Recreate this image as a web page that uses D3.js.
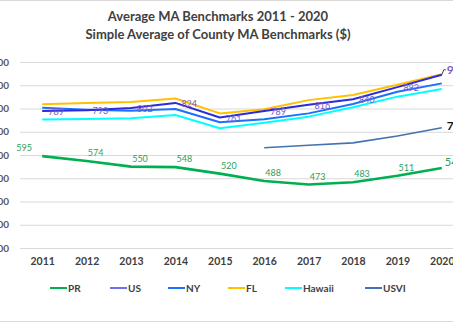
<!DOCTYPE html>
<html><head><meta charset="utf-8">
<script src="https://cdn.jsdelivr.net/npm/d3@7"></script>
<style>body{margin:0;background:#fff;overflow:hidden}svg{display:block}</style>
</head><body>
<svg id="c" width="453" height="323"></svg>
<script>
const years = [2011,2012,2013,2014,2015,2016,2017,2018,2019,2020];
const PR = [595,574,550,548,520,488,473,483,511,544];
const US = [789,793,802,824,761,789,816,840,892,945];
const NY = [803,795,790,798,741,754,779,819,872,908];
const FL = [818,824,828,843,779,797,836,858,902,947];
const Hawaii = [753,755,758,772,715,739,765,805,851,884];
const USVI = [null,null,null,null,null,631,642,652,682,717];
const yTicks = [200,300,400,500,600,700,800,900,1000];
const titleLines = ["Average MA Benchmarks 2011 - 2020","Simple Average of County MA Benchmarks ($)"];

const series = [
  {name:"PR", values:PR, color:"#00B050", width:2.6},
  {name:"US", values:US, color:"#2B2BD9", width:2, legend:"#6F6FF0"},
  {name:"NY", values:NY, color:"#1F6FFF", width:2},
  {name:"FL", values:FL, color:"#FFC000", width:2},
  {name:"Hawaii", values:Hawaii, color:"#00FFFF", width:2},
  {name:"USVI", values:USVI, color:"#4472B0", width:1.6}
];

const svg = d3.select("#c");
const font = "Lato, 'Open Sans', sans-serif";
const x = d3.scalePoint().domain(years).range([20,464]).padding(0.5);
const y = d3.scaleLinear().domain([200,1000]).range([248,62]);

// borders
svg.append("line").attr("x1",0).attr("x2",453).attr("y1",0.5).attr("y2",0.5).attr("stroke","#d9d9d9");
svg.append("line").attr("x1",0).attr("x2",453).attr("y1",321.5).attr("y2",321.5).attr("stroke","#d9d9d9");

// title
svg.append("text").attr("x",218).attr("y",21).attr("text-anchor","middle")
  .attr("font-family",font).attr("font-weight","bold").attr("font-size",13).attr("fill","#404040")
  .selectAll("tspan").data(titleLines).join("tspan")
  .attr("x",218).attr("dy",(d,i)=>i?18:0).text(d=>d);

// grid + y labels (partly cut by the left edge, as in the reference)
const yAxis = d3.axisLeft(y).tickValues(yTicks).tickSize(-444).tickFormat(d=>"$"+d3.format(",")(d));
const gy = svg.append("g").attr("transform","translate(20,0)").call(yAxis);
gy.select(".domain").remove();
gy.selectAll(".tick line").attr("stroke","#d9d9d9");
gy.selectAll(".tick text").attr("x",-11).attr("font-family",font).attr("font-weight","bold")
  .attr("font-size",10).attr("fill","#595959");

// x axis
const xAxis = d3.axisBottom(x).tickSize(0).tickPadding(0);
const gx = svg.append("g").attr("transform","translate(0,258)").call(xAxis);
gx.select(".domain").remove();
gx.selectAll(".tick text").attr("font-family",font).attr("font-weight","bold")
  .attr("font-size",10.5).attr("fill","#404040");

// lines
const line = d3.line().defined(d=>d.v!=null).x(d=>x(d.year)).y(d=>y(d.v));
const order = [4,2,3,1,5,0];
order.forEach(i=>{
  const s = series[i];
  svg.append("path").datum(years.map((yr,j)=>({year:yr,v:s.values[j]})))
    .attr("d",line).attr("fill","none").attr("stroke",s.color)
    .attr("stroke-width",s.width).attr("stroke-linejoin","round");
});

// PR labels
const last = years.length-1;
svg.append("g").selectAll("text").data(years.slice(0,last)).join("text")
  .attr("x",(d,i)=>x(d)+(i===0?-18:9))
  .attr("y",(d,i)=>y(PR[i])-5)
  .attr("text-anchor","middle").attr("font-family",font).attr("font-size",9)
  .attr("fill","#2EA05A").text((d,i)=>PR[i]);
// US labels
svg.append("g").selectAll("text").data(years.slice(0,last)).join("text")
  .attr("x",d=>x(d)+6).attr("y",(d,i)=>y(US[i])+4)
  .attr("font-family",font).attr("font-size",9)
  .attr("fill","#7A5CC4").text((d,i)=>US[i]);

// end labels
const xe = x(years[last]);
svg.append("path").attr("d",`M${xe},${y(US[last])} L${xe+2},${y(US[last])-5} L${xe+4},${y(US[last])-5}`)
  .attr("fill","none").attr("stroke","#404040").attr("stroke-width",1);
svg.append("text").attr("x",xe+5).attr("y",y(US[last])-1).attr("font-family",font)
  .attr("font-weight","bold").attr("font-size",12).attr("fill","#7A5CC4").text(US[last]);
svg.append("text").attr("x",xe+5).attr("y",y(USVI[last])+2).attr("font-family",font)
  .attr("font-weight","bold").attr("font-size",12).attr("fill","#111").text(USVI[last]);
svg.append("text").attr("x",xe+3).attr("y",y(PR[last])-2).attr("font-family",font)
  .attr("font-size",11).attr("fill","#2EA05A").text(PR[last]);

// legend
const legX = [50,110,168,228,285,365];
const lg = svg.append("g").selectAll("g").data(series).join("g")
  .attr("transform",(d,i)=>`translate(${legX[i]},288)`);
lg.append("line").attr("x1",0).attr("x2",17).attr("y1",0).attr("y2",0)
  .attr("stroke",d=>d.legend||d.color).attr("stroke-width",2);
lg.append("text").attr("x",18).attr("y",3.5).attr("font-family",font).attr("font-weight","bold")
  .attr("font-size",10).attr("fill","#404040").text(d=>d.name);
</script>
</body></html>
